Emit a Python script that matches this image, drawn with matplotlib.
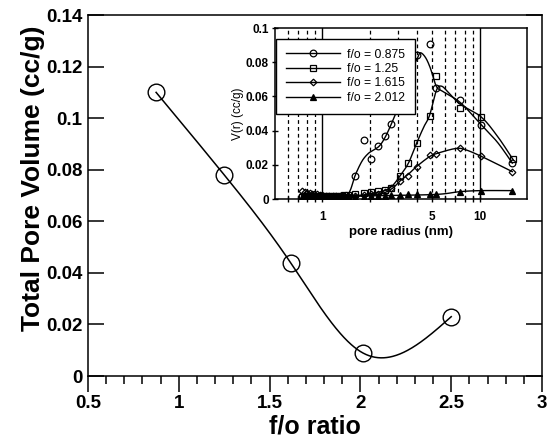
import numpy as np
import matplotlib
matplotlib.use("Agg")
import matplotlib.pyplot as plt
from matplotlib.ticker import FixedLocator, FuncFormatter, MultipleLocator, NullFormatter

plt.rcParams['font.family'] = ['Liberation Sans', 'DejaVu Sans']

# ---------------- main chart data ----------------
fo_ratio = [0.875, 1.25, 1.615, 2.012, 2.5]
total_pore_volume = [0.110, 0.078, 0.044, 0.009, 0.023]

# ---------------- inset data (pore size distributions) ----------------
legend_labels = ["f/o = 0.875", "f/o = 1.25", "f/o = 1.615", "f/o = 2.012"]

r_low = [0.74, 0.77, 0.80, 0.83, 0.86, 0.89, 0.92, 0.96, 1.0, 1.05, 1.1, 1.16, 1.22, 1.29, 1.37, 1.46]

s1_r = r_low + [1.61, 1.84, 2.05, 2.26, 2.5, 2.71, 4.0, 4.84, 5.29, 7.5, 10.2, 16.1]
s1_v = [0.002, 0.0018, 0.0015, 0.0015, 0.0012, 0.0012, 0.001, 0.001, 0.001, 0.001, 0.001, 0.001, 0.001, 0.001, 0.001, 0.0012,
        0.0135, 0.0343, 0.0234, 0.0308, 0.037, 0.044, 0.084, 0.0908, 0.0647, 0.0577, 0.0433, 0.0212]

s2_r = r_low + [1.61, 1.84, 2.05, 2.26, 2.5, 2.71, 3.11, 3.52, 3.97, 4.8, 5.29, 7.5, 10.2, 16.3]
s2_v = [0.001, 0.001, 0.001, 0.0012, 0.0012, 0.0012, 0.0015, 0.0015, 0.0015, 0.0015, 0.0018, 0.002, 0.002, 0.002, 0.0022, 0.0025,
        0.003, 0.0035, 0.004, 0.0045, 0.0055, 0.0065, 0.0135, 0.021, 0.0327, 0.0484, 0.0722, 0.0531, 0.0481, 0.0232]

s3_r = r_low + [1.61, 1.84, 2.05, 2.26, 2.5, 2.71, 3.11, 3.52, 3.97, 4.8, 5.29, 7.5, 10.2, 16.1]
s3_v = [0.0045, 0.004, 0.0038, 0.0035, 0.0032, 0.003, 0.0028, 0.0025, 0.0023, 0.002, 0.002, 0.002, 0.002, 0.002, 0.002, 0.002,
        0.002, 0.0025, 0.003, 0.003, 0.004, 0.0065, 0.0103, 0.0132, 0.0187, 0.0255, 0.0262, 0.0298, 0.0253, 0.016]

s4_r = r_low + [1.61, 1.84, 2.05, 2.26, 2.5, 2.71, 3.11, 3.52, 3.97, 4.8, 5.29, 7.5, 10.2, 16.1]
s4_v = [0.001] * 16 + [0.001, 0.0012, 0.0015, 0.0018, 0.002, 0.0022, 0.0025, 0.0027, 0.0027, 0.0027, 0.0028, 0.0043, 0.0048, 0.0048]

# smooth fitted curves
fit1_r = [0.74, 1.0, 1.38, 1.5, 1.61, 1.78, 1.95, 2.1, 2.3, 2.5, 2.76, 3.1, 3.6, 4.0, 4.18, 4.5, 4.84, 5.29, 5.8, 7.5, 10.2, 13.0, 16.1]
fit1_v = [0.001, 0.001, 0.0012, 0.005, 0.0135, 0.022, 0.0265, 0.0285, 0.031, 0.036, 0.0445, 0.056, 0.073, 0.082, 0.0855, 0.083, 0.0768, 0.066, 0.063, 0.0565, 0.0435, 0.033, 0.021]

fit2_r = [0.74, 1.5, 2.0, 2.5, 2.8, 3.11, 3.52, 3.97, 4.4, 4.8, 5.3, 5.7, 6.3, 7.5, 10.2, 13.0, 16.3]
fit2_v = [0.001, 0.0015, 0.003, 0.005, 0.008, 0.0135, 0.021, 0.0327, 0.042, 0.049, 0.0635, 0.066, 0.0625, 0.0555, 0.048, 0.0365, 0.023]

fit3_r = [0.74, 1.5, 2.3, 2.76, 3.11, 3.52, 3.97, 4.8, 5.5, 7.0, 8.0, 10.2, 16.1]
fit3_v = [0.002, 0.002, 0.003, 0.006, 0.0105, 0.0145, 0.019, 0.0248, 0.027, 0.0295, 0.029, 0.025, 0.016]

fit4_r = [0.74, 2.5, 5.3, 7.5, 10.2, 16.1]
fit4_v = [0.001, 0.002, 0.0027, 0.0043, 0.0049, 0.0049]


def natural_spline(x, y, n=400):
    x = np.asarray(x, float); y = np.asarray(y, float)
    k = len(x); h = np.diff(x); s = np.diff(y) / h
    A = np.zeros((k, k)); b = np.zeros(k)
    A[0, 0] = 1; A[-1, -1] = 1
    for i in range(1, k - 1):
        A[i, i - 1] = h[i - 1]; A[i, i] = 2 * (h[i - 1] + h[i]); A[i, i + 1] = h[i]
        b[i] = 6 * (s[i] - s[i - 1])
    M = np.linalg.solve(A, b)
    xs = np.linspace(x[0], x[-1], n)
    idx = np.clip(np.searchsorted(x, xs) - 1, 0, k - 2)
    u = xs - x[idx]; hh = h[idx]
    ys = (M[idx] * (x[idx + 1] - xs) ** 3 / (6 * hh) + M[idx + 1] * u ** 3 / (6 * hh)
          + (y[idx] / hh - M[idx] * hh / 6) * (x[idx + 1] - xs)
          + (y[idx + 1] / hh - M[idx + 1] * hh / 6) * u)
    return xs, ys


def catmull(xr, yv, n=20):
    x = np.log10(np.asarray(xr, float)); y = np.asarray(yv, float)
    P = np.column_stack([x, y])
    P = np.vstack([P[0], P, P[-1]])
    out = []
    t = np.linspace(0, 1, n, endpoint=False)[:, None]
    for i in range(1, len(P) - 2):
        p0, p1, p2, p3 = P[i - 1], P[i], P[i + 1], P[i + 2]
        seg = 0.5 * ((2 * p1) + (-p0 + p2) * t + (2 * p0 - 5 * p1 + 4 * p2 - p3) * t ** 2
                     + (-p0 + 3 * p1 - 3 * p2 + p3) * t ** 3)
        out.append(seg)
    out.append(P[-2][None, :])
    out = np.vstack(out)
    return 10 ** out[:, 0], out[:, 1]


fig = plt.figure(figsize=(5.48, 4.48), dpi=100)
ax = fig.add_axes([0.1606, 0.1607, 0.8285, 0.8058])

xs, ys = natural_spline(fo_ratio, total_pore_volume)
ax.plot(xs, ys, color='black', lw=1.1)
ax.plot(fo_ratio, total_pore_volume, 'o', ms=12, mfc='none', mec='black', mew=1.0)

ax.set_xlim(0.5, 3)
ax.set_ylim(0, 0.14)
ax.xaxis.set_major_locator(MultipleLocator(0.5))
ax.xaxis.set_minor_locator(MultipleLocator(0.1))
ax.yaxis.set_major_locator(MultipleLocator(0.02))
fmt = FuncFormatter(lambda v, p: '{:g}'.format(round(v, 6)))
ax.xaxis.set_major_formatter(fmt)
ax.yaxis.set_major_formatter(fmt)
ax.tick_params(axis='x', which='major', direction='out', length=11.5, width=1.1, labelsize=13.5, pad=2)
ax.tick_params(axis='x', which='minor', direction='out', length=5.5, width=1.1)
ax.tick_params(axis='y', which='major', direction='in', length=11.5, width=1.1, labelsize=13.5,
               right=True, pad=4)
for lab in ax.get_xticklabels() + ax.get_yticklabels():
    lab.set_fontweight('bold')
for sp in ax.spines.values():
    sp.set_linewidth(1.1)
ax.set_xlabel('f/o ratio', fontsize=18, fontweight='bold', labelpad=2)
ax.set_ylabel('Total Pore Volume (cc/g)', fontsize=19, fontweight='bold')
ax.yaxis.set_label_coords(-0.095, 0.548)

# ---------------- inset ----------------
ins = fig.add_axes([0.502, 0.5558, 0.4599, 0.3817])
ins.set_facecolor('white')
ins.set_xscale('log')
ins.set_xlim(0.5, 20)
ins.set_ylim(0, 0.1)

for g in [0.6, 0.7, 0.8, 0.9, 2, 3, 4, 5, 6, 7, 8, 9]:
    ins.axvline(g, color='black', lw=0.9, ls=(0, (3, 2.5)), zorder=0.5)
for g in [1, 10]:
    ins.axvline(g, color='black', lw=1.0, zorder=0.5)

styles = [dict(marker='o', mfc='none', ms=4.8),
          dict(marker='s', mfc='none', ms=4.6),
          dict(marker='D', mfc='none', ms=3.4),
          dict(marker='^', mfc='black', ms=4.8)]
series = [(s1_r, s1_v, fit1_r, fit1_v), (s2_r, s2_v, fit2_r, fit2_v),
          (s3_r, s3_v, fit3_r, fit3_v), (s4_r, s4_v, fit4_r, fit4_v)]
handles = []
for (mr, mv, fr, fv), st, lab in zip(series, styles, legend_labels):
    cx, cy = catmull(fr, fv)
    ins.plot(cx, cy, color='black', lw=1.0, zorder=2)
    ins.plot(mr, mv, ls='none', marker=st['marker'], mfc=st['mfc'], mec='black', ms=st['ms'], mew=0.9, zorder=3)
    h, = ins.plot([], [], color='black', lw=1.0, marker=st['marker'], mfc=st['mfc'], mec='black',
                  ms=st['ms'], mew=0.9, label=lab)
    handles.append(h)

ins.xaxis.set_major_locator(FixedLocator([1, 5, 10]))
ins.xaxis.set_major_formatter(FuncFormatter(lambda v, p: '{:g}'.format(v)))
ins.xaxis.set_minor_locator(FixedLocator([0.6, 0.7, 0.8, 0.9, 2, 3, 4, 6, 7, 8, 9]))
ins.xaxis.set_minor_formatter(NullFormatter())
ins.yaxis.set_major_locator(MultipleLocator(0.02))
ins.yaxis.set_major_formatter(fmt)
ins.tick_params(axis='both', which='major', direction='inout', length=5, width=1.0, labelsize=8.5, pad=2)
ins.tick_params(axis='x', which='major', pad=6)
ins.tick_params(axis='x', which='minor', direction='inout', length=5, width=1.0)
for lab in ins.get_xticklabels() + ins.get_yticklabels():
    lab.set_fontweight('bold')
for sp in ins.spines.values():
    sp.set_linewidth(1.1)
ins.set_xlabel('pore radius (nm)', fontsize=9.5, fontweight='bold', labelpad=2)
ins.set_ylabel('V(r) (cc/g)', fontsize=8.5, labelpad=1)

leg = ins.legend(handles=handles, loc='upper left', bbox_to_anchor=(0.004, 0.937), borderaxespad=0,
                 fontsize=8.8, numpoints=1, handlelength=4.4, handletextpad=0.6, labelspacing=0.2,
                 borderpad=0.8, fancybox=False, framealpha=1, edgecolor='black')
leg.get_frame().set_linewidth(1.0)
leg.set_zorder(5)

fig.savefig('out.png', dpi=100)
